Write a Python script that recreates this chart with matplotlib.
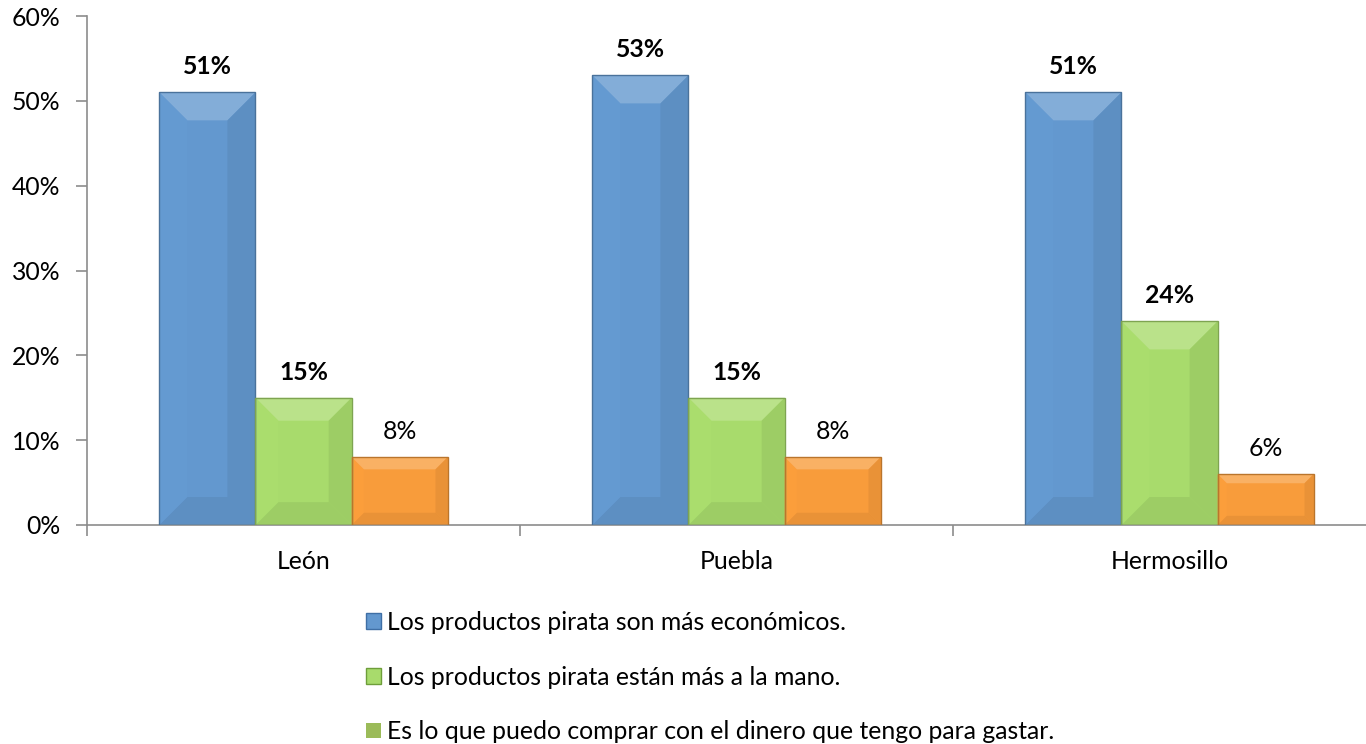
import matplotlib
matplotlib.use('Agg')
import matplotlib.pyplot as plt
from matplotlib.patches import Patch, Polygon
from matplotlib.ticker import FuncFormatter
import matplotlib.colors as mcolors
import numpy as np

# Data
cities = ['León', 'Puebla', 'Hermosillo']
series_names = ['Los productos pirata son más económicos.',
                'Los productos pirata están más a la mano.',
                'Es lo que puedo comprar con el dinero que tengo para gastar.']
economicos = [0.51, 0.53, 0.51]
a_la_mano = [0.15, 0.15, 0.24]
dinero = [0.08, 0.08, 0.06]
yticks = [0, 0.1, 0.2, 0.3, 0.4, 0.5, 0.6]

colors = ['#6398CF', '#A8DB6C', '#F89C3B']
legend_flat_green = '#9BBB59'
label_bold = [True, True, False]
fs = 17.8

plt.rcParams['font.family'] = ['Lato', 'DejaVu Sans']

fig = plt.figure(figsize=(13.66, 7.44), dpi=100)
ax = fig.add_axes([87 / 1366, 1 - 525 / 744, 1299 / 1366, 509 / 744])

x = np.arange(len(cities))
w = 0.222
all_series = [economicos, a_la_mano, dinero]
bar_groups = []
for i, vals in enumerate(all_series):
    bars = ax.bar(x + (i - 1) * w, vals, width=w, color=colors[i], linewidth=0, zorder=2)
    bar_groups.append(bars)
    for b, v in zip(bars, vals):
        ax.annotate(f'{v * 100:.0f}%', (b.get_x() + b.get_width() / 2, v),
                    xytext=(0, 13), textcoords='offset points',
                    ha='center', va='baseline', fontsize=fs,
                    fontweight='bold' if label_bold[i] else 'normal')

ax.set_xlim(-0.5, 2.5)
ax.set_ylim(0, 0.6)
ax.set_yticks(yticks)
ax.yaxis.set_major_formatter(FuncFormatter(lambda v, p: f'{v * 100:.0f}%'))
ax.set_xticks([-0.5, 0.5, 1.5, 2.5])
ax.set_xticklabels([])
ax.set_xticks(x, minor=True)
ax.set_xticklabels(cities, minor=True)
ax.tick_params(axis='x', which='minor', length=0, pad=18, labelsize=fs)
ax.tick_params(axis='x', which='major', length=8, color='#8C8C8C', width=1.2)
ax.tick_params(axis='y', length=8, color='#8C8C8C', width=1.2, pad=11, labelsize=fs)
for s in ['top', 'right']:
    ax.spines[s].set_visible(False)
for s in ['left', 'bottom']:
    ax.spines[s].set_color('#8C8C8C')
    ax.spines[s].set_linewidth(1.2)

# bevel effect on bars, drawn in pixel space from each bar's extents
fig.canvas.draw()
for i, bars in enumerate(bar_groups):
    base = np.array(mcolors.to_rgb(colors[i]))
    light = np.clip(base + (1 - base) * 0.3, 0, 1)
    dark = base * 0.9
    for b in bars:
        (x0, y0), (x1, y1) = ax.transData.transform([(b.get_x(), 0), (b.get_x() + b.get_width(), b.get_height())])
        dd = min(28, 0.18 * (y1 - y0), (x1 - x0) / 2)
        polys = [
            ([(x0, y1), (x1, y1), (x1 - dd, y1 - dd), (x0 + dd, y1 - dd)], light, 0.7),
            ([(x0, y0), (x1, y0), (x1 - dd, y0 + dd), (x0 + dd, y0 + dd)], dark, 0.6),
            ([(x1, y0), (x1, y1), (x1 - dd, y1 - dd), (x1 - dd, y0 + dd)], base * 0.9, 0.6),
            ([(x0, y0), (x0, y1), (x0 + dd, y1 - dd), (x0 + dd, y0 + dd)], np.clip(base * 1.02, 0, 1), 0.7),
        ]
        for pts, c, a in polys:
            ax.add_patch(Polygon(pts, closed=True, transform=None, facecolor=c,
                                 edgecolor='none', alpha=a, zorder=3))
        ax.add_patch(Polygon([(x0, y0), (x1, y0), (x1, y1), (x0, y1)], closed=True, transform=None,
                             facecolor='none', edgecolor=base * 0.75, linewidth=1.0, zorder=4))

handles = [Patch(facecolor=colors[0], edgecolor='#3F6FA5'),
           Patch(facecolor=colors[1], edgecolor='#6E9E3A'),
           Patch(facecolor=legend_flat_green, edgecolor='none')]
fig.legend(handles, series_names, loc='upper left', bbox_to_anchor=(366 / 1366, 1 - 611 / 744),
           frameon=False, fontsize=fs, handlelength=0.6, handleheight=0.6, handletextpad=0.25,
           labelspacing=1.28, borderpad=0, borderaxespad=0)

fig.savefig('out.png', dpi=100)
